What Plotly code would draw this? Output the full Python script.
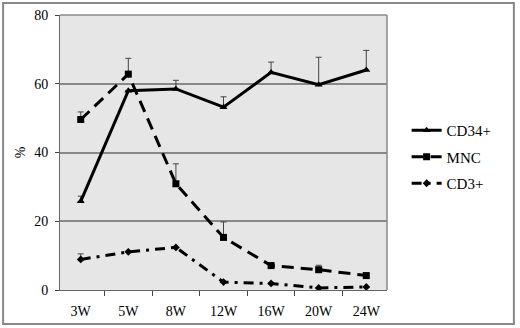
import plotly.graph_objects as go

weeks = ["3W", "5W", "8W", "12W", "16W", "20W", "24W"]
cd34 = [25.8, 58.0, 58.5, 53.2, 63.3, 59.7, 64.0]
cd34_err = [1.5, 0.0, 2.5, 3.0, 3.0, 8.0, 5.7]
mnc = [49.6, 62.8, 30.9, 15.3, 7.1, 5.9, 4.2]
mnc_err = [2.2, 4.6, 5.8, 4.5, 0.8, 1.3, 0.0]
cd3 = [8.9, 11.1, 12.4, 2.3, 1.9, 0.6, 0.9]
cd3_err = [1.6, 0.0, 0.0, 0.0, 0.0, 0.0, 0.0]
y_ticks = [0, 20, 40, 60, 80]

FONT = "Times New Roman"

def err(vals):
    return dict(type="data", symmetric=False, array=vals, arrayminus=[0] * len(vals),
                color="#444444", thickness=1, width=3)

fig = go.Figure()
fig.add_trace(go.Scatter(x=weeks, y=cd34, name="CD34+", mode="lines+markers", legendgroup="a",
                         line=dict(color="black", width=3),
                         marker=dict(symbol="triangle-up", size=7, color="black"),
                         error_y=err(cd34_err)))
fig.add_trace(go.Scatter(x=weeks, y=mnc, name="MNC", mode="lines+markers", legendgroup="b",
                         line=dict(color="black", width=3, dash="12px,7px"),
                         marker=dict(symbol="square", size=7, color="black"),
                         error_y=err(mnc_err)))
fig.add_trace(go.Scatter(x=weeks, y=cd3, name="CD3+", mode="lines+markers", legendgroup="c",
                         line=dict(color="black", width=3, dash="10px,6px,3px,6px"),
                         marker=dict(symbol="diamond", size=6, color="black"),
                         error_y=err(cd3_err)))

fig.update_layout(
    width=520, height=328,
    margin=dict(l=60, r=133, t=15, b=38, autoexpand=False),
    paper_bgcolor="white", plot_bgcolor="#e6e6e6",
    font=dict(family=FONT, size=14, color="black"),
    showlegend=True,
    legend=dict(x=1.06, y=0.64, xanchor="left", yanchor="top",
                bgcolor="rgba(0,0,0,0)", font=dict(size=15, family=FONT),
                itemwidth=30, tracegroupgap=4),
    shapes=[
        dict(type="rect", xref="paper", yref="paper", x0=-0.174, x1=1.388, y0=-0.124, y1=1.044,
             line=dict(color="#888888", width=2), fillcolor="rgba(0,0,0,0)", layer="below"),
        dict(type="line", xref="paper", yref="paper", x0=1, x1=1, y0=0, y1=1,
             line=dict(color="#888888", width=1.5)),
        dict(type="line", xref="paper", yref="paper", x0=0, x1=1, y0=1, y1=1,
             line=dict(color="#888888", width=1.5)),
    ],
)
fig.update_xaxes(type="category", tickson="boundaries", ticks="outside", ticklen=5,
                 tickcolor="#444444", showline=True, linecolor="#666666", linewidth=1,
                 showgrid=False, automargin=False, ticklabelstandoff=8,
                 tickfont=dict(size=14, family=FONT))
fig.update_yaxes(range=[0, 80], tickvals=y_ticks, ticks="outside", ticklen=4,
                 tickcolor="#444444", showline=True, linecolor="#666666", linewidth=1,
                 showgrid=True, gridcolor="#888888", gridwidth=1.5, zeroline=False,
                 automargin=False, ticklabelstandoff=4,
                 title=dict(text="%", standoff=5, font=dict(size=14, family=FONT)),
                 tickfont=dict(size=14, family=FONT))

fig.write_html("out.html", config={"displayModeBar": False},
               post_script="document.body.style.margin='0';document.body.style.overflow='hidden';")
